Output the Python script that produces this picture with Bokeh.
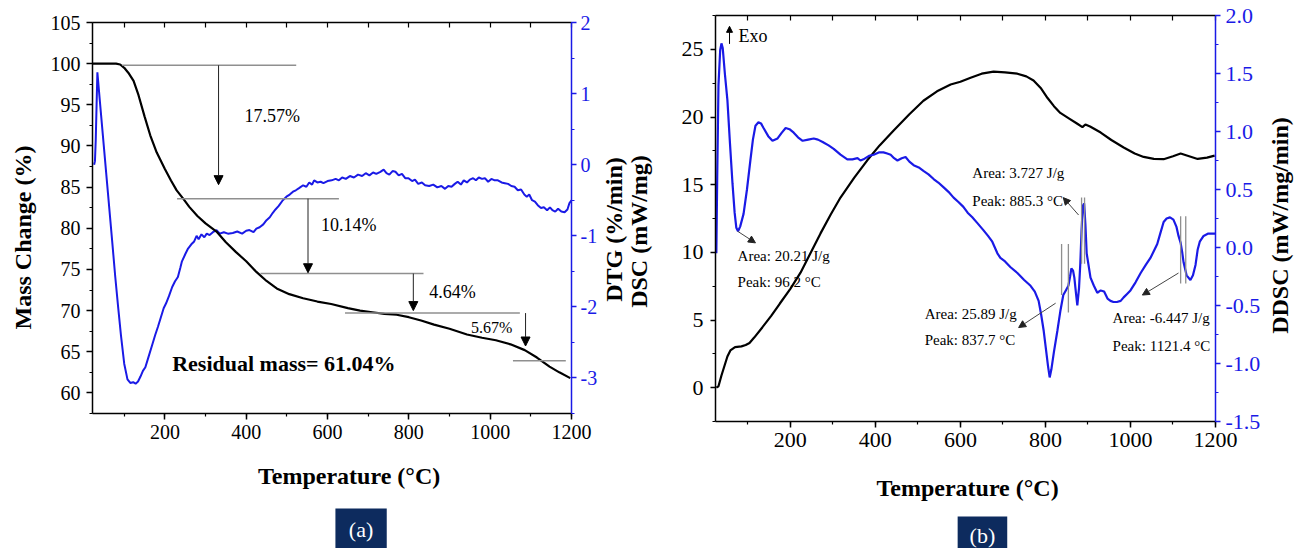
import math
from bokeh.plotting import figure
from bokeh.models import (Range1d, LinearAxis, SingleIntervalTicker, FixedTicker,
                          NumeralTickFormatter, Arrow, NormalHead, Label, BoxAnnotation)
from bokeh.layouts import row, column
from bokeh.embed import file_html
from bokeh.resources import INLINE

FONT = "Liberation Serif"
BLUE = "#1a1ae6"
NAVY = "#0d2b5e"
GRAY = "#8f8f8f"

# ---------------- panel (a): TG / DTG ----------------
tg_temp = [22, 50, 80, 90, 100, 110, 123, 135, 150, 164, 180, 200, 215, 229, 245, 260, 280, 300,
           327, 350, 375, 400, 425, 450, 475, 506, 540, 575, 609, 650, 680, 710, 740, 770, 800,
           830, 862, 900, 943, 980, 1014, 1050, 1085, 1115, 1146, 1170, 1197]
tg_mass = [100.0, 100.0, 100.0, 99.9, 99.5, 98.9, 97.9, 96.2, 93.6, 91.3, 89.2, 87.2, 85.8, 84.6,
           83.6, 82.6, 81.5, 80.6, 79.6, 78.3, 77.1, 76.0, 74.7, 73.6, 72.7, 72.0, 71.5, 71.1, 70.8,
           70.3, 70.0, 69.8, 69.6, 69.5, 69.2, 68.8, 68.3, 67.8, 67.1, 66.7, 66.4, 65.9, 65.2, 64.3,
           63.2, 62.5, 61.8]

dtg_temp = [26, 28, 30, 34, 40, 50, 60, 70, 78, 85, 92, 100, 108, 115, 122, 128, 134, 140, 146,
            152, 160, 168, 176, 183, 190, 197, 203, 210, 218, 225, 232, 238, 242, 250, 257, 265,
            272, 278, 283, 290, 297, 303, 310, 318, 327, 335, 345, 355, 367, 378, 390, 400, 408,
            418, 425, 433, 442, 450, 458, 465, 472, 480, 490, 499, 507, 515, 522, 530, 540, 548,
            555, 562, 567, 575, 583, 590, 600, 610, 620, 628, 636, 645, 655, 665, 675, 685, 694,
            703, 712, 720, 730, 738, 745, 752, 760, 767, 775, 783, 791, 799, 808, 815, 823, 832,
            840, 850, 860, 870, 880, 889, 897, 905, 913, 920, 928, 935, 943, 950, 958, 965, 972,
            980, 987, 995, 1003, 1011, 1019, 1028, 1036, 1044, 1052, 1060, 1068, 1076, 1084, 1090,
            1096, 1103, 1110, 1117, 1125, 1132, 1140, 1147, 1153, 1160, 1167, 1175, 1183, 1190,
            1195, 1200]
dtg_rate = [0.0, 0.05, 0.35, 1.3, 0.9, 0.25, -0.4, -1.05, -1.58, -2.0, -2.4, -2.8, -3.02, -3.07,
            -3.06, -3.08, -3.05, -2.98, -2.9, -2.85, -2.7, -2.55, -2.4, -2.28, -2.15, -2.02, -1.95,
            -1.85, -1.72, -1.64, -1.58, -1.45, -1.36, -1.26, -1.18, -1.12, -1.08, -1.0, -1.05,
            -0.98, -1.02, -0.97, -0.99, -0.95, -0.92, -0.97, -0.95, -0.97, -0.96, -0.94, -0.97,
            -0.93, -0.92, -0.95, -0.9, -0.88, -0.84, -0.78, -0.74, -0.68, -0.63, -0.58, -0.5,
            -0.45, -0.42, -0.38, -0.36, -0.33, -0.29, -0.31, -0.25, -0.28, -0.22, -0.25, -0.24,
            -0.26, -0.23, -0.22, -0.2, -0.22, -0.18, -0.2, -0.16, -0.18, -0.14, -0.16, -0.12,
            -0.15, -0.11, -0.13, -0.1, -0.07, -0.12, -0.14, -0.09, -0.1, -0.15, -0.13, -0.19,
            -0.19, -0.23, -0.21, -0.27, -0.25, -0.29, -0.3, -0.28, -0.32, -0.3, -0.34, -0.3, -0.31,
            -0.27, -0.24, -0.28, -0.22, -0.25, -0.21, -0.19, -0.22, -0.18, -0.2, -0.19, -0.24,
            -0.2, -0.22, -0.22, -0.25, -0.26, -0.27, -0.3, -0.31, -0.36, -0.35, -0.42, -0.45,
            -0.42, -0.5, -0.52, -0.57, -0.61, -0.6, -0.64, -0.6, -0.64, -0.66, -0.62, -0.66,
            -0.67, -0.63, -0.54, -0.5]

step_levels = [99.8, 83.6, 74.5, 69.7, 63.9]
step_x0 = [95, 230, 435, 643, 1056]
step_x1 = [523, 628, 836, 1073, 1186]
step_arrow_x = [332, 552, 811, 1087]
step_arrow_top = [99.8, 83.6, 74.5, 69.7]
step_arrow_tip = [85.3, 74.6, 70.0, 65.7]
step_labels = ["17.57%", "10.14%", "4.64%", "5.67%"]
step_label_x = [396, 584, 850, 953]
step_label_y = [93.7, 80.4, 72.2, 67.9]
step_label_size = ["18px", "18px", "18px", "16px"]
residual_label = "Residual mass= 61.04%"

# ---------------- panel (b): DSC / DDSC ----------------
dsc_temp = [26, 31, 38, 45, 52, 59, 70, 85, 95, 104, 115, 134, 155, 175, 200, 224, 250, 271, 295,
            318, 350, 381, 410, 443, 480, 513, 545, 577, 600, 624, 650, 678, 705, 734, 755, 772,
            790, 805, 820, 835, 855, 875, 887, 894, 905, 930, 955, 984, 1010, 1031, 1055, 1078,
            1100, 1118, 1138, 1158, 1180, 1198]
dsc_val = [0.0, 0.1, 0.9, 1.6, 2.3, 2.75, 3.0, 3.05, 3.15, 3.3, 3.7, 4.45, 5.3, 6.2, 7.3, 8.5,
           10.1, 11.4, 12.8, 14.05, 15.5, 16.8, 17.9, 19.0, 20.2, 21.2, 21.9, 22.4, 22.6, 22.9,
           23.2, 23.35, 23.3, 23.2, 23.0, 22.7, 22.1, 21.4, 20.8, 20.3, 19.9, 19.5, 19.25, 19.45,
           19.3, 18.85, 18.3, 17.75, 17.3, 17.05, 16.9, 16.88, 17.1, 17.3, 17.1, 16.9, 17.0, 17.15]

ddsc_temp = [26, 28, 31, 35, 38, 41, 46, 52, 58, 64, 69, 73, 77, 82, 90, 98, 106, 112, 118, 125,
             131, 137, 148, 158, 170, 180, 189, 198, 208, 218, 229, 242, 255, 265, 276, 290, 302,
             318, 334, 346, 358, 365, 372, 385, 396, 408, 419, 428, 436, 444, 452, 462, 471, 480,
             490, 502, 513, 525, 537, 548, 560, 572, 584, 596, 607, 617, 628, 640, 654, 665, 675,
             687, 694, 705, 718, 734, 750, 765, 775, 784, 790, 796, 802, 806, 810, 814, 820, 828,
             835, 842, 848, 854, 858, 861, 865, 868, 872, 875, 879, 882, 885, 888, 891, 894, 897,
             900, 906, 914, 922, 930, 938, 946, 953, 960, 968, 977, 984, 992, 1000, 1012, 1024,
             1036, 1047, 1055, 1063, 1070, 1078, 1085, 1093, 1101, 1108, 1113, 1118, 1122, 1125,
             1132, 1141, 1147, 1153, 1158, 1163, 1172, 1183, 1195, 1200]
ddsc_val = [-0.05, 0.6, 1.4, 1.7, 1.76, 1.72, 1.5, 1.27, 0.9, 0.55, 0.3, 0.17, 0.14, 0.18, 0.29,
            0.5, 0.75, 0.93, 1.05, 1.08, 1.07, 1.03, 0.96, 0.92, 0.94, 0.99, 1.03, 1.02, 0.99, 0.95,
            0.92, 0.93, 0.94, 0.93, 0.91, 0.88, 0.85, 0.8, 0.76, 0.76, 0.77, 0.75, 0.76, 0.79, 0.8,
            0.82, 0.82, 0.81, 0.8, 0.77, 0.75, 0.77, 0.78, 0.74, 0.71, 0.69, 0.66, 0.63, 0.59,
            0.56, 0.52, 0.48, 0.43, 0.39, 0.35, 0.3, 0.26, 0.21, 0.15, 0.1, 0.05, -0.05, -0.09,
            -0.12, -0.17, -0.22, -0.28, -0.33, -0.38, -0.46, -0.58, -0.72, -0.9, -1.02, -1.12,
            -1.05, -0.9, -0.72, -0.55, -0.41, -0.37, -0.33, -0.25, -0.18, -0.2, -0.26, -0.4, -0.5,
            -0.35, -0.14, 0.15, 0.36, 0.38, 0.2, -0.05, -0.12, -0.26, -0.33, -0.39, -0.37, -0.38,
            -0.44, -0.46, -0.47, -0.47, -0.46, -0.43, -0.4, -0.37, -0.3, -0.22, -0.15, -0.09,
            -0.03, 0.03, 0.12, 0.22, 0.25, 0.26, 0.24, 0.18, 0.1, 0.04, -0.05, -0.13, -0.24, -0.28,
            -0.24, -0.15, -0.02, 0.05, 0.1, 0.12, 0.12, 0.12]

mark_x = [838, 854, 885, 892, 1118, 1130]
mark_top = [0.03, 0.03, 0.43, 0.43, 0.27, 0.27]
mark_bottom = [-0.41, -0.56, -0.14, -0.14, -0.31, -0.31]

peak_arrow_x0 = [76, 878, 824, 1113]
peak_arrow_y0 = [0.14, 0.28, -0.48, -0.22]
peak_arrow_x1 = [118, 842, 737, 1028]
peak_arrow_y1 = [0.04, 0.43, -0.69, -0.41]

peak_text = ["Area: 20.21 J/g", "Peak: 96.2 °C", "Area: 3.727 J/g", "Peak: 885.3 °C",
             "Area: 25.89 J/g", "Peak: 837.7 °C", "Area: -6.447 J/g", "Peak: 1121.4 °C"]
peak_text_x = [76, 76, 628, 628, 516, 516, 958, 958]
peak_text_y = [-0.07, -0.30, 0.64, 0.40, -0.57, -0.80, -0.61, -0.845]

top_ticks = [100, 200, 300, 400, 500, 600, 700, 800, 900, 1000, 1100, 1200]
panel_tags = ["(a)", "(b)"]
x_title = "Temperature (°C)"
mass_title = "Mass Change (%)"
middle_titles = ["DTG (%/min)", "DSC (mW/mg)"]
ddsc_title = "DDSC (mW/mg/min)"

H = 548  # total page height


def style_axis(ax, color, tick_size, major_out=6, minor_out=3, major_in=0, minor_in=0):
    ax.axis_line_color = color
    ax.axis_line_width = 1.5
    ax.major_tick_line_color = color
    ax.minor_tick_line_color = color
    ax.major_tick_line_width = 1.5
    ax.minor_tick_line_width = 1.2
    ax.major_label_text_color = color
    ax.major_label_text_font = FONT
    ax.major_label_text_font_size = tick_size
    ax.major_tick_out = major_out
    ax.minor_tick_out = minor_out
    ax.major_tick_in = major_in
    ax.minor_tick_in = minor_in


def top_axis():
    ax = LinearAxis(ticker=FixedTicker(ticks=[], minor_ticks=top_ticks))
    style_axis(ax, "black", "0px", major_out=0, minor_out=0, major_in=6, minor_in=5)
    ax.major_label_standoff = 0
    return ax


def strip(width, height):
    """An axis-less area (pixel coordinates, origin bottom-left) for titles and tags."""
    s = figure(width=width, height=height, x_range=Range1d(0, width), y_range=Range1d(0, height),
               x_axis_location=None, y_axis_location=None, output_backend="svg",
               toolbar_location=None, min_border=0)
    s.grid.visible = False
    s.outline_line_color = None
    return s


def title(s, text, x, y, vertical):
    s.add_layout(Label(x=x, y=y, text=text, angle=(math.pi / 2 if vertical else 0),
                       text_font=FONT, text_font_size="24px", text_font_style="bold",
                       text_align="center", text_baseline="middle", text_color="black"))


def tag(s, text, left, right, top, tx, ty):
    s.add_layout(BoxAnnotation(left=left, right=right, bottom=0, top=top, fill_color=NAVY,
                               fill_alpha=1.0, line_color=None))
    s.add_layout(Label(x=tx, y=ty, text=text, text_font=FONT, text_font_size="22px",
                       text_align="center", text_baseline="middle", text_color="white"))


# ================= figure (a) =================
pa = figure(width=560, height=462, x_range=Range1d(22, 1200), y_range=Range1d(57.5, 105),
            output_backend="svg", toolbar_location=None,
            min_border_left=52, min_border_right=27, min_border_top=22, min_border_bottom=49)
pa.extra_y_ranges = {"dtg": Range1d(-3.5, 2)}
pa.grid.visible = False
pa.outline_line_color = None

xa = pa.xaxis[0]
xa.ticker = SingleIntervalTicker(interval=200, num_minor_ticks=2)
style_axis(xa, "black", "20px")

ya = pa.yaxis[0]
ya.ticker = SingleIntervalTicker(interval=5, num_minor_ticks=2)
style_axis(ya, "black", "20px")
ya.major_label_standoff = 6

pa.add_layout(top_axis(), "above")

ra = LinearAxis(y_range_name="dtg", ticker=SingleIntervalTicker(interval=1, num_minor_ticks=2),
                formatter=NumeralTickFormatter(format="0"))
style_axis(ra, BLUE, "20px", major_out=5)
ra.major_label_standoff = 4
pa.add_layout(ra, "right")

pa.line(dtg_temp, dtg_rate, y_range_name="dtg", line_color=BLUE, line_width=2)
pa.line(tg_temp, tg_mass, line_color="black", line_width=2.2)
pa.segment(x0=step_x0, y0=step_levels, x1=step_x1, y1=step_levels, line_color=GRAY,
           line_width=1.5)
for xv, y0, y1 in zip(step_arrow_x, step_arrow_top, step_arrow_tip):
    pa.add_layout(Arrow(end=NormalHead(size=9, fill_color="black", line_color="black",
                                       line_width=1),
                        x_start=xv, y_start=y0, x_end=xv, y_end=y1,
                        line_color="#222222", line_width=1))
for t, xv, yv, fs in zip(step_labels, step_label_x, step_label_y, step_label_size):
    pa.add_layout(Label(x=xv, y=yv, text=t, text_font=FONT, text_font_size=fs,
                        text_align="left", text_baseline="middle", text_color="black"))
pa.add_layout(Label(x=218, y=63.6, text=residual_label, text_font=FONT, text_font_size="22px",
                    text_font_style="bold", text_align="left", text_baseline="middle",
                    text_color="black"))

# strip under (a): x-axis title and tag
sa = strip(560, H - 462)
title(sa, x_title, 300, 73, False)
tag(sa, panel_tags[0], 284, 344, 40, 314, 19)

# ================= figure (b) =================
pb = figure(width=605, height=470, x_range=Range1d(24, 1200), y_range=Range1d(-2.5, 27.5),
            output_backend="svg", toolbar_location=None,
            min_border_left=55, min_border_right=50, min_border_top=15, min_border_bottom=49)
pb.extra_y_ranges = {"ddsc": Range1d(-1.5, 2.0)}
pb.grid.visible = False
pb.outline_line_color = None

xb = pb.xaxis[0]
xb.ticker = SingleIntervalTicker(interval=200, num_minor_ticks=2)
style_axis(xb, "black", "22px")

yb = pb.yaxis[0]
yb.ticker = SingleIntervalTicker(interval=5, num_minor_ticks=2)
style_axis(yb, "black", "22px", major_out=5)
yb.major_label_standoff = 7

pb.add_layout(top_axis(), "above")

rb = LinearAxis(y_range_name="ddsc",
                ticker=SingleIntervalTicker(interval=0.5, num_minor_ticks=2),
                formatter=NumeralTickFormatter(format="0.0"))
style_axis(rb, BLUE, "22px", major_out=5)
rb.major_label_standoff = 5
pb.add_layout(rb, "right")

pb.line(dsc_temp, dsc_val, line_color="black", line_width=2.2)
pb.line(ddsc_temp, ddsc_val, y_range_name="ddsc", line_color=BLUE, line_width=2.2)
pb.segment(x0=mark_x, y0=mark_top, x1=mark_x, y1=mark_bottom, y_range_name="ddsc",
           line_color=GRAY, line_width=1.3)
for x0, y0, x1, y1 in zip(peak_arrow_x0, peak_arrow_y0, peak_arrow_x1, peak_arrow_y1):
    pb.add_layout(Arrow(end=NormalHead(size=7, fill_color="#222222", line_color="#222222",
                                       line_width=1),
                        x_start=x0, y_start=y0, x_end=x1, y_end=y1, y_range_name="ddsc",
                        line_color="#444444", line_width=1))
for t, xv, yv in zip(peak_text, peak_text_x, peak_text_y):
    pb.add_layout(Label(x=xv, y=yv, text=t, y_range_name="ddsc", text_font=FONT,
                        text_font_size="15px", text_align="left", text_baseline="middle",
                        text_color="black"))
pb.add_layout(Arrow(end=NormalHead(size=6, fill_color="black", line_color="black"),
                    x_start=57, y_start=25.4, x_end=57, y_end=26.7,
                    line_color="black", line_width=1))
pb.add_layout(Label(x=78, y=26.0, text="Exo", text_font=FONT, text_font_size="18px",
                    text_align="left", text_baseline="middle", text_color="black"))

# strip under (b): x-axis title and tag
sb = strip(605, H - 470)
title(sb, x_title, 305, 61, False)
tag(sb, panel_tags[1], 293, 353, 32, 323, 13)

# ======= vertical title strips =======
pl = strip(40, H)
title(pl, mass_title, 22, H - 237, True)
pm = strip(60, H)
title(pm, middle_titles[0], 13, H - 229, True)
title(pm, middle_titles[1], 38, H - 231, True)
pr = strip(30, H)
title(pr, ddsc_title, 14, H - 225, True)

layout = row(pl, column(pa, sa), pm, column(pb, sb), pr)
open("out.html", "w").write(file_html(layout, INLINE))
